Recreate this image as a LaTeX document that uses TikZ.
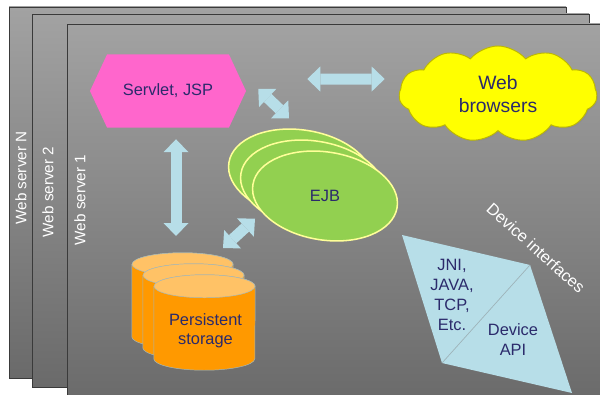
\documentclass[tikz,border=0pt]{standalone}
\usepackage{fontspec}
\setmainfont{Liberation Sans}
\usetikzlibrary{arrows.meta,shapes.geometric,shapes.symbols,calc,shadows}
\definecolor{PanelTop}   {HTML}{A2A2A2}
\definecolor{PanelBot}   {HTML}{6A6A6A}
\definecolor{PanelEdge}  {HTML}{3A3A3A}
\definecolor{HotPink}    {HTML}{FF66CC}
\definecolor{CloudYellow}{HTML}{FFFF00}
\definecolor{CloudEdge}  {HTML}{BDB800}
\definecolor{LeafGreen}  {HTML}{92D050}
\definecolor{PaleYellow} {HTML}{FFFF99}
\definecolor{StoreOrange}{HTML}{FF9900}
\definecolor{StoreTop}   {HTML}{FFC266}
\definecolor{AquaLight}  {HTML}{B7DEE8}
\definecolor{InkNavy}    {HTML}{2B2A6B}
\tikzset{
  panel/.style={draw=PanelEdge,line width=0.8pt,top color=PanelTop,bottom color=PanelBot},
  plabel/.style={rotate=90,font=\fontsize{13}{15}\selectfont\color{white}},
  txt/.style={font=\fontsize{14}{17}\selectfont\color{InkNavy},align=center},
  hexa/.style={signal,signal to=west and east,signal pointer angle=130,fill=HotPink,
               minimum width=4.68cm,minimum height=2.19cm,inner sep=0pt},
  cloudy/.style={cloud,cloud puffs=11,cloud puff arc=100,aspect=2.1,fill=CloudYellow,
                 draw=CloudEdge,line width=0.8pt,minimum width=5.94cm,minimum height=2.88cm,
                 inner sep=0pt,drop shadow={opacity=0.25,shadow xshift=1pt,shadow yshift=-1pt}},
  ejbell/.style={ellipse,rotate=-9,fill=LeafGreen,draw=PaleYellow,line width=1.3pt,
                 minimum width=4.38cm,minimum height=2.64cm,inner sep=0pt},
  drumbox/.style={rectangle,minimum width=3.03cm,minimum height=2.85cm,inner sep=0pt},
  drumbody/.style={fill=StoreOrange,draw=AquaLight!60!gray,line width=0.4pt},
  drumtop/.style={fill=StoreTop,draw=AquaLight!60!gray,line width=0.4pt},
  fatarr/.style={draw=AquaLight,line width=0.33cm,
                 {Triangle[width=0.75cm,length=0.39cm,line width=0pt]}-{Triangle[width=0.75cm,length=0.39cm,line width=0pt]}},
  divider/.style={draw=AquaLight!55!gray,line width=0.6pt},
}
\begin{document}
\begin{tikzpicture}[x=0.03cm,y=-0.03cm]
  \useasboundingbox (0,0) rectangle (600,394);
  \clip (0,0) rectangle (600,394);

  \draw[panel] (9,7) rectangle (566,378);
  \draw[panel] (32,14) rectangle (589,387);
  \draw[panel] (67,24) rectangle (610,404);
  \node[plabel] (srvN) at (21,178) {Web server N};
  \node[plabel] (srv2) at (48,192) {Web server 2};
  \node[plabel] (srv1) at (80,200) {Web server 1};

  \node[hexa,txt] (servlet) at (168,91) {Servlet, JSP};
  \node[cloudy,txt,font=\fontsize{16.5}{20}\selectfont\color{InkNavy}] (browsers) at (498,94) {Web\\browsers};

  \node[ejbell] (ejb3) at (301,174) {};
  \node[ejbell] (ejb2) at (313,185) {};
  \node[ejbell] (ejb) at (325,196) {};
  \node[txt] (ejbtxt) at (ejb) {EJB};

  \node[drumbox] (store3) at (182.5,300.5) {};
  \path[drumbody] ($(store3.north west)+(0,11.5)$) -- ($(store3.south west)+(0,-11.5)$)
    arc[start angle=180,end angle=0,x radius=50.5,y radius=11.5]
    -- ($(store3.north east)+(0,11.5)$) arc[start angle=0,end angle=-180,x radius=50.5,y radius=11.5] -- cycle;
  \path[drumtop] ($(store3.north)+(0,11.5)$) ellipse [x radius=50.5,y radius=11.5];
  \node[drumbox] (store2) at (193.5,311.5) {};
  \path[drumbody] ($(store2.north west)+(0,11.5)$) -- ($(store2.south west)+(0,-11.5)$)
    arc[start angle=180,end angle=0,x radius=50.5,y radius=11.5]
    -- ($(store2.north east)+(0,11.5)$) arc[start angle=0,end angle=-180,x radius=50.5,y radius=11.5] -- cycle;
  \path[drumtop] ($(store2.north)+(0,11.5)$) ellipse [x radius=50.5,y radius=11.5];
  \node[drumbox] (storage) at (204.5,322.5) {};
  \path[drumbody] ($(storage.north west)+(0,11.5)$) -- ($(storage.south west)+(0,-11.5)$)
    arc[start angle=180,end angle=0,x radius=50.5,y radius=11.5]
    -- ($(storage.north east)+(0,11.5)$) arc[start angle=0,end angle=-180,x radius=50.5,y radius=11.5] -- cycle;
  \path[drumtop] ($(storage.north)+(0,11.5)$) ellipse [x radius=50.5,y radius=11.5];
  \node[txt,font=\fontsize{14}{16.5}\selectfont\color{InkNavy}] (storetxt) at ($(storage)+(1,8)$) {Persistent\\storage};

  \coordinate (devA) at (402,235);
  \coordinate (devB) at (530,265);
  \coordinate (devC) at (442,363);
  \coordinate (devD) at (572,393);
  \fill[AquaLight] (devA) -- (devB) -- (devD) -- (devC) -- cycle;
  \draw[divider] (devB) -- (devC);
  \node[txt] (jni) at (452,295) {JNI,\\JAVA,\\TCP,\\Etc.};
  \node[txt] (devapi) at (513,340) {Device\\API};
  \node[rotate=-42,font=\fontsize{14}{16}\selectfont\color{white}] (devif) at (536,248) {Device interfaces};

  \draw[fatarr] ($(servlet.east)+(61,-12)$) -- ($(browsers.west)+(-14,-15)$);
  \draw[fatarr] ($(servlet.east)+(12,-2)$) -- ($(ejb3.north)+(-19,-11.5)$);
  \draw[fatarr] ($(servlet.south)+(8,11.5)$) -- ($(store3.center)+(-6.5,-64.5)$);
  \draw[fatarr] ($(ejb3.south)+(-39,0.5)$) -- ($(store2.center)+(29.5,-63.5)$);
\end{tikzpicture}
\end{document}
